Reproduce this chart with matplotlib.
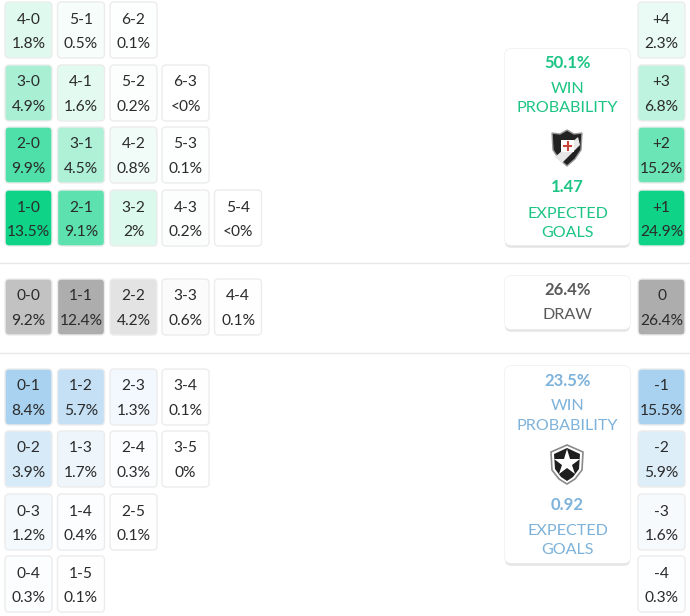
import matplotlib
matplotlib.use("Agg")
import matplotlib.pyplot as plt
import matplotlib.patheffects as pe
from matplotlib.colors import to_rgb
from matplotlib.patches import FancyBboxPatch, Polygon

plt.rcParams['font.family'] = ['Lato', 'DejaVu Sans']

# score grids, one list per row
home_scores = [["4-0", "5-1", "6-2"],
               ["3-0", "4-1", "5-2", "6-3"],
               ["2-0", "3-1", "4-2", "5-3"],
               ["1-0", "2-1", "3-2", "4-3", "5-4"]]
home_probs = [["1.8%", "0.5%", "0.1%"],
              ["4.9%", "1.6%", "0.2%", "<0%"],
              ["9.9%", "4.5%", "0.8%", "0.1%"],
              ["13.5%", "9.1%", "2%", "0.2%", "<0%"]]
draw_scores = [["0-0", "1-1", "2-2", "3-3", "4-4"]]
draw_probs = [["9.2%", "12.4%", "4.2%", "0.6%", "0.1%"]]
away_scores = [["0-1", "1-2", "2-3", "3-4"],
               ["0-2", "1-3", "2-4", "3-5"],
               ["0-3", "1-4", "2-5"],
               ["0-4", "1-5"]]
away_probs = [["8.4%", "5.7%", "1.3%", "0.1%"],
              ["3.9%", "1.7%", "0.3%", "0%"],
              ["1.2%", "0.4%", "0.1%"],
              ["0.3%", "0.1%"]]

# goal difference columns
home_diffs = ["+4", "+3", "+2", "+1"]
home_diff_probs = ["2.3%", "6.8%", "15.2%", "24.9%"]
draw_diffs = ["0"]
draw_diff_probs = ["26.4%"]
away_diffs = ["-1", "-2", "-3", "-4"]
away_diff_probs = ["15.5%", "5.9%", "1.6%", "0.3%"]

home_win = "50.1%"
home_xg = "1.47"
draw_prob = "26.4%"
away_win = "23.5%"
away_xg = "0.92"

GREEN = "#0fd488"
GREY = "#adadad"
BLUE = "#a9d2f0"
GREEN_TXT = "#1cc583"
GREY_TXT = "#5a5a5a"
BLUE_TXT = "#7db2da"
INK = "#2b2b2b"
COLS = [5, 57.5, 110, 162, 214.5]
DIFF_X = 638
CELL_W = 47
CELL_H = 56


def pct(label):
    return float(label.replace("<", "").replace("%", ""))


def tint(base, frac):
    r = to_rgb(base)
    return tuple(1 - (1 - c) * frac for c in r)


def cell(ax, x, y, top, bottom, base, frac):
    ax.add_patch(FancyBboxPatch((x + 2, y + 2), CELL_W - 4, CELL_H - 4,
                                boxstyle="round,pad=2,rounding_size=4",
                                fc=tint(base, frac), ec="#ececec", lw=1.0))
    ax.text(x + CELL_W / 2, y + 17.5, top, ha="center", va="center", fontsize=11.2, color=INK)
    ax.text(x + CELL_W / 2, y + 42, bottom, ha="center", va="center", fontsize=11.2, color=INK)


def grid(ax, scores, probs, row_tops, base):
    top_val = max(pct(p) for row in probs for p in row)
    for i, row in enumerate(scores):
        for j, s in enumerate(row):
            cell(ax, COLS[j], row_tops[i], s, probs[i][j], base, pct(probs[i][j]) / top_val)


def diff_col(ax, diffs, probs, row_tops, base):
    top_val = max(pct(p) for p in probs)
    for i, d in enumerate(diffs):
        cell(ax, DIFF_X, row_tops[i], d, probs[i], base, pct(probs[i]) / top_val)


def card(ax, y0, y1):
    ax.add_patch(FancyBboxPatch((509, y0 + 4), 117, y1 - y0 - 8,
                                boxstyle="round,pad=4,rounding_size=6",
                                fc="white", ec="none", zorder=3,
                                path_effects=[pe.SimplePatchShadow(offset=(0, -2), shadow_rgbFace="#999999", alpha=0.25),
                                              pe.Stroke(linewidth=1, foreground="#eeeeee"),
                                              pe.Normal()]))


def card_text(ax, y, s, color, bold=False, size=11.6):
    ax.text(567.5, y + 1, s, ha="center", va="center", fontsize=size, color=color,
            fontweight="bold" if bold else "normal", zorder=4)


fig = plt.figure(figsize=(6.9, 6.16), dpi=100)
ax = fig.add_axes([0, 0, 1, 1])
ax.set_xlim(0, 690)
ax.set_ylim(616, 0)
ax.axis("off")

home_rows = [2, 65, 127, 190]
away_rows = [369, 431, 494, 556]
grid(ax, home_scores, home_probs, home_rows, GREEN)
grid(ax, draw_scores, draw_probs, [279], GREY)
grid(ax, away_scores, away_probs, away_rows, BLUE)
diff_col(ax, home_diffs, home_diff_probs, home_rows, GREEN)
diff_col(ax, draw_diffs, draw_diff_probs, [279], GREY)
diff_col(ax, away_diffs, away_diff_probs, away_rows, BLUE)

ax.plot([0, 690], [262.5, 262.5], color="#e8e8e8", lw=1)
ax.plot([0, 690], [352.5, 352.5], color="#e8e8e8", lw=1)

# home card
card(ax, 49, 245)
card_text(ax, 62, home_win, GREEN_TXT, bold=True, size=12)
card_text(ax, 88, "WIN", GREEN_TXT)
card_text(ax, 107, "PROBABILITY", GREEN_TXT)
card_text(ax, 186, home_xg, GREEN_TXT, bold=True, size=12)
card_text(ax, 213, "EXPECTED", GREEN_TXT)
card_text(ax, 232, "GOALS", GREEN_TXT)
# vasco crest
ax.add_patch(Polygon([(552, 133), (560, 134), (567, 130), (574, 134), (582, 133), (581, 150), (575, 159), (567, 166), (559, 159), (553, 150)],
                     fc="#222222", ec="#9a9a9a", lw=1, zorder=4))
ax.add_patch(Polygon([(555, 157), (578, 137), (580, 145), (562, 163)], fc="#e8e8e8", zorder=5))
ax.add_patch(Polygon([(561, 140), (574, 140), (574, 152), (561, 152)], fc="white", zorder=6))
ax.plot([567.5, 567.5], [142, 150], color="#c9463d", lw=1.5, zorder=7)
ax.plot([564, 571], [146, 146], color="#c9463d", lw=1.5, zorder=7)

# draw card
card(ax, 276, 329)
card_text(ax, 289, draw_prob, GREY_TXT, bold=True, size=12)
card_text(ax, 314, "DRAW", GREY_TXT)

# away card
card(ax, 366, 563)
card_text(ax, 380, away_win, BLUE_TXT, bold=True, size=12)
card_text(ax, 405, "WIN", BLUE_TXT)
card_text(ax, 425, "PROBABILITY", BLUE_TXT)
card_text(ax, 504, away_xg, BLUE_TXT, bold=True, size=12)
card_text(ax, 530, "EXPECTED", BLUE_TXT)
card_text(ax, 549, "GOALS", BLUE_TXT)
# botafogo crest
ax.add_patch(Polygon([(551, 452), (567, 445), (583, 452), (582, 470), (575, 479), (567, 484), (559, 479), (552, 470)],
                     fc="white", ec="#8a8a8a", lw=1.2, zorder=4))
ax.add_patch(Polygon([(554, 454), (567, 448), (580, 454), (579, 469), (573, 477), (567, 481), (561, 477), (555, 469)],
                     fc="#1e1e1e", zorder=5))
ax.plot([567], [463], marker="*", ms=20, color="white", mew=0, zorder=6)

fig.savefig("out.png", dpi=100)
